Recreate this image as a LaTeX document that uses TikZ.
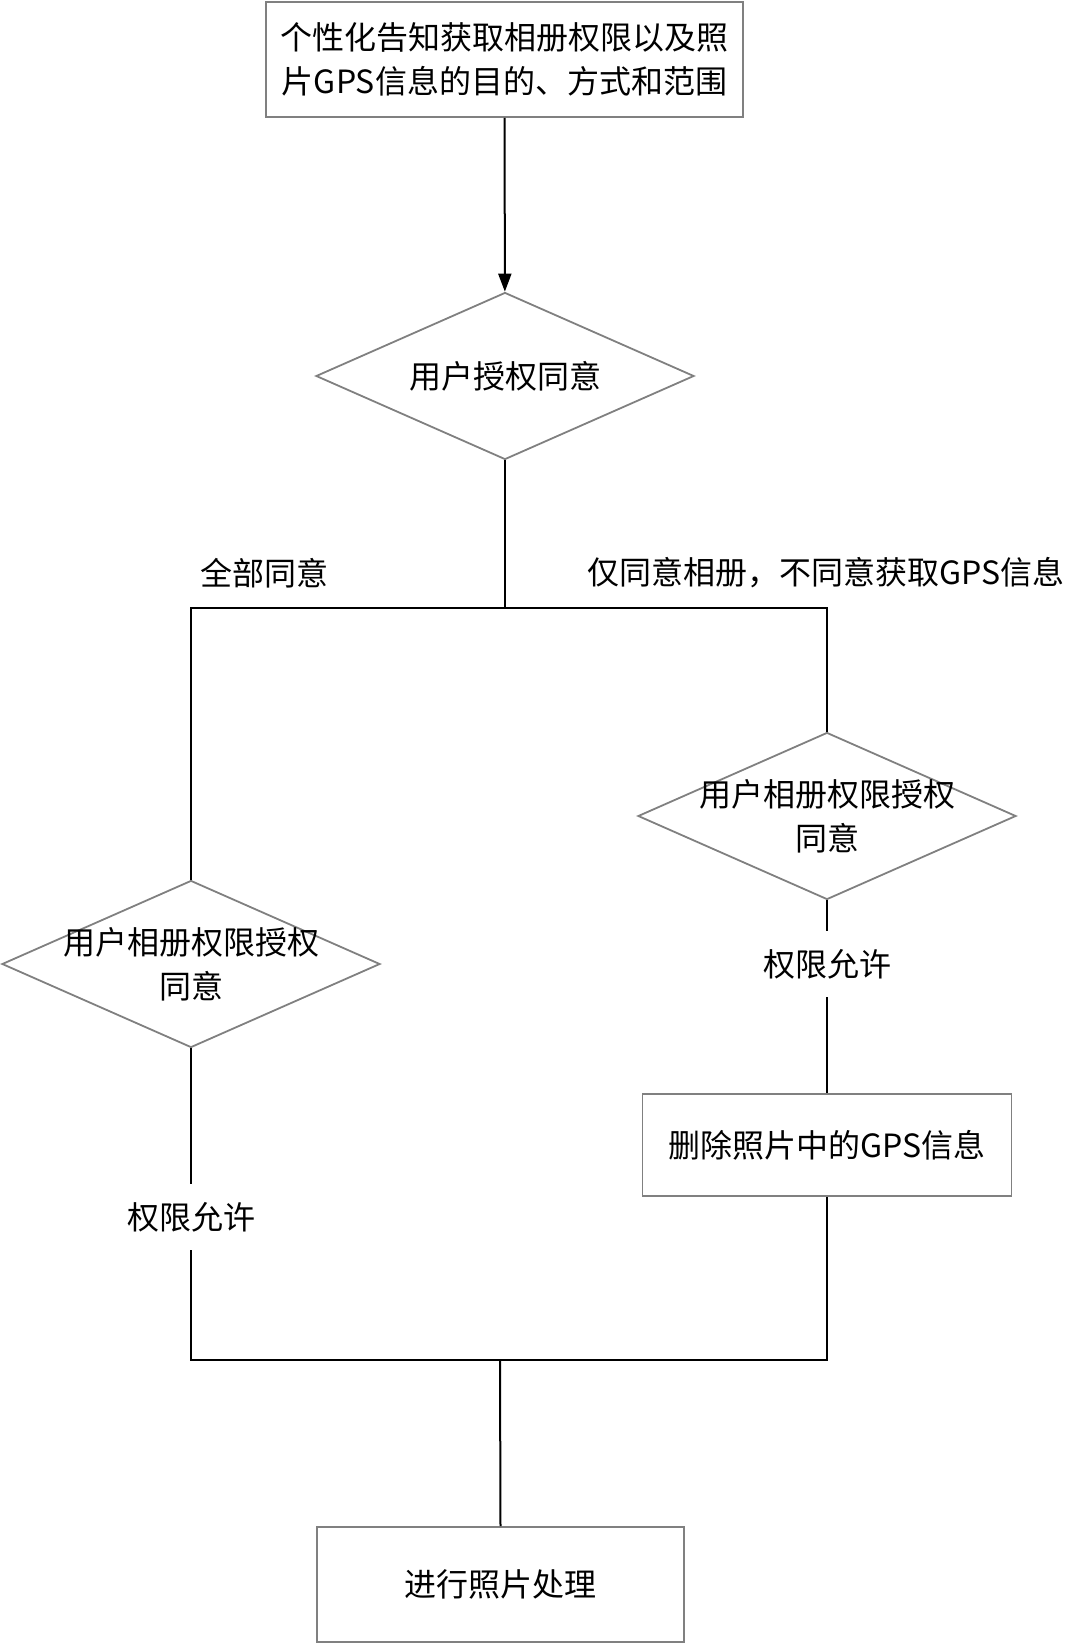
\documentclass[tikz,border=0pt]{standalone}
\usepackage{fontspec}
\setmainfont{Noto Sans CJK SC}
\usetikzlibrary{shapes.geometric,arrows.meta}
\definecolor{edgegray}{RGB}{128,128,128}

\begin{document}
\begin{tikzpicture}[x=0.5pt,y=-0.5pt,
        every node/.style={font=\fontsize{16pt}{22pt}\selectfont,align=center},
        box/.style={draw=edgegray,line width=0.9pt,inner sep=0pt},
        decision/.style={draw=edgegray,line width=0.9pt,diamond,inner sep=0pt,
            minimum width=189pt,minimum height=83.5pt},
        lbl/.style={inner sep=0pt,minimum height=33pt},
        conn/.style={draw,black,line width=1pt}]
        \useasboundingbox (0,0) rectangle (1078,1644);

        \node[box,minimum width=238.5pt,minimum height=57.5pt] (T) at (504.5,59.5) {个性化告知获取相册权限以及照\\片GPS信息的目的、方式和范围};
        \node[decision,label={center:用户授权同意}] (D1) at (505,376) {};
        \node[decision,label={center:用户相册权限授权\\同意}] (DL) at (191,964) {};
        \node[decision,label={center:用户相册权限授权\\同意}] (DR) at (827,816) {};
        \node[box,minimum width=184.5pt,minimum height=51pt] (X) at (827,1145) {删除照片中的GPS信息};
        \node[box,minimum width=183.5pt,minimum height=57.5pt] (P) at (500.5,1584.5) {进行照片处理};

        \node (all) at (264,573) {全部同意};
        \node (part) at (826,573) {仅同意相册，不同意获取GPS信息};
        \node[lbl] (OL) at (191,1217) {权限允许};
        \node[lbl] (OR) at (827,964) {权限允许};

        \coordinate (S) at (505,608);
        \coordinate (M) at (500,1360);

        \path [conn,-{Triangle[length=9pt,width=6.5pt]}] (T) -- (D1);
        \path [conn] (D1.south) -- (S);
        \path [conn] (S) -| (DL.north);
        \path [conn] (S) -| (DR.north);
        \path [conn] (DL.south) -- (OL.north);
        \path [conn] (OL.south) |- (M);
        \path [conn] (DR.south) -- (OR.north);
        \path [conn] (OR.south) -- (X.north);
        \path [conn] (X.south) |- (M);
        \path [conn] (M) -- (P.north);
    \end{tikzpicture}
\end{document}
